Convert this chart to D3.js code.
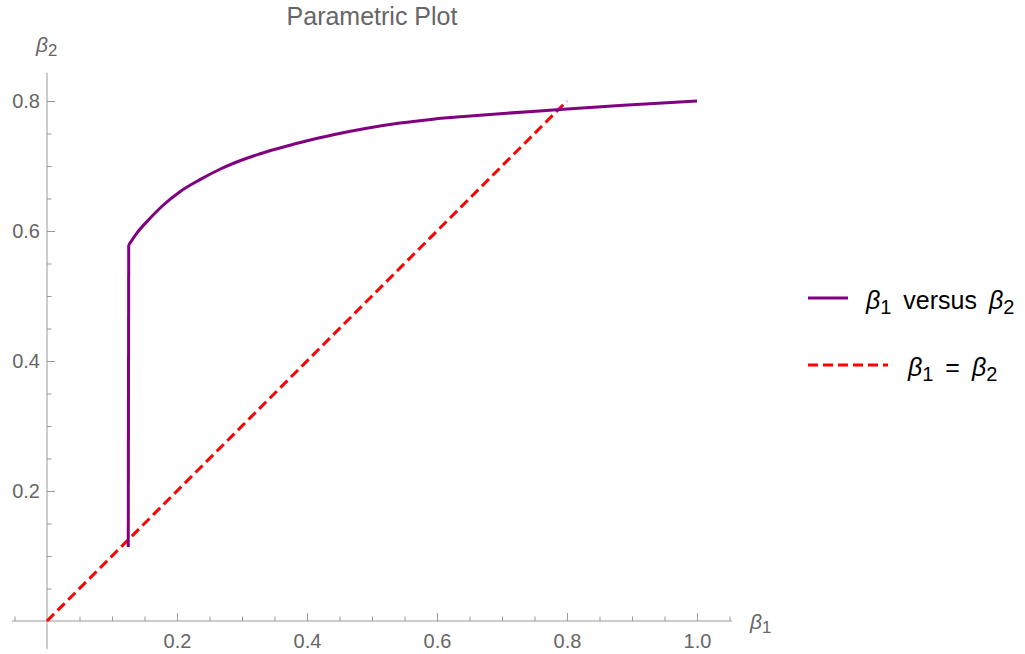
<!DOCTYPE html>
<head>
  <style>
    body { margin: 0; background: #fff; }
    svg text { font-family: "Liberation Sans", Arial, sans-serif; }
    .tick text { font-size: 20px; fill: #666; }
    .tick line { stroke: #999; }
    .axis-line { stroke: #999; stroke-width: 1; }
    .axis-label { font-size: 21px; font-style: italic; fill: #666; }
    .legend-text { font-size: 25px; fill: #000; }
    .title { font-size: 25px; fill: #666; }
  </style>
  <title>Parametric Plot</title>
</head>

<body>
  <script src="https://cdn.jsdelivr.net/npm/d3@7"></script>
  <script>
    // values
    const curveB1 = [0.125, 0.1257, 0.138, 0.1585, 0.179, 0.2046, 0.2354, 0.266, 0.302, 0.338, 0.374,
                     0.405, 0.4405, 0.492, 0.543, 0.594, 0.646, 0.697, 0.784, 0.887, 1.0];
    const curveB2 = [0.114, 0.5785, 0.5965, 0.6195, 0.640, 0.6605, 0.679, 0.695, 0.710, 0.722, 0.732,
                     0.740, 0.748, 0.758, 0.766, 0.772, 0.7765, 0.7805, 0.7865, 0.7935, 0.800];
    const diagB1 = [0, 0.8];
    const diagB2 = [0, 0.8];
    const xTicks = [0.2, 0.4, 0.6, 0.8, 1.0];
    const yTicks = [0.2, 0.4, 0.6, 0.8];
    const legendLabels = [["β", "1", " versus ", "β", "2"], ["β", "1", " = ", "β", "2"]];

    const svg = d3.select("body").append("svg")
      .attr("width", 1025)
      .attr("height", 654);

    const x = d3.scaleLinear().domain([0, 1]).range([47, 697]);
    const y = d3.scaleLinear().domain([0, 0.8]).range([621, 101]);

    // axis lines (extend a little past the data)
    svg.append("line").attr("class", "axis-line")
      .attr("x1", x(-0.054)).attr("x2", x(1.054))
      .attr("y1", y(0)).attr("y2", y(0));
    svg.append("line").attr("class", "axis-line")
      .attr("x1", x(0)).attr("x2", x(0))
      .attr("y1", y(-0.043)).attr("y2", y(0.8435));

    const isMajor = v => Math.abs(Math.round(v * 5) - v * 5) < 1e-6;
    const xMinor = d3.range(-0.05, 1.06, 0.05).filter(v => !isMajor(v));
    const yMinor = d3.range(0.05, 0.81, 0.05).filter(v => !isMajor(v));

    // minor ticks
    svg.append("g").attr("transform", `translate(0,${y(0)})`)
      .call(d3.axisBottom(x).tickValues(xMinor).tickSize(-4.5).tickFormat(""))
      .call(g => g.select(".domain").remove());
    svg.append("g").attr("transform", `translate(${x(0)},0)`)
      .call(d3.axisLeft(y).tickValues(yMinor).tickSize(-4.5).tickFormat(""))
      .call(g => g.select(".domain").remove());

    // major ticks + labels
    svg.append("g").attr("transform", `translate(0,${y(0)})`)
      .call(d3.axisBottom(x).tickValues(xTicks).tickSize(-8).tickPadding(13).tickFormat(d3.format(".1f")))
      .call(g => g.select(".domain").remove())
      .call(g => g.selectAll("text").attr("font-family", null).attr("font-size", null));
    svg.append("g").attr("transform", `translate(${x(0)},0)`)
      .call(d3.axisLeft(y).tickValues(yTicks).tickSize(-8).tickPadding(7).tickFormat(d3.format(".1f")))
      .call(g => g.select(".domain").remove())
      .call(g => g.selectAll("text").attr("font-family", null).attr("font-size", null));

    // axis labels
    function betaLabel(sel, sub) {
      sel.append("tspan").text("β");
      sel.append("tspan").attr("font-style", "normal").attr("font-size", "0.8em")
        .attr("dy", "0.25em").text(sub);
    }
    svg.append("text").attr("class", "axis-label")
      .attr("x", 36).attr("y", 52).call(betaLabel, "2");
    svg.append("text").attr("class", "axis-label")
      .attr("x", 750).attr("y", 629).call(betaLabel, "1");

    // title
    svg.append("text").attr("class", "title")
      .attr("x", 372).attr("y", 25)
      .attr("text-anchor", "middle")
      .text("Parametric Plot");

    // lines
    const line = d3.line().x(d => x(d[0])).y(d => y(d[1]));
    const smooth = d3.line().x(d => x(d[0])).y(d => y(d[1])).curve(d3.curveMonotoneX);

    svg.append("path")
      .datum(d3.zip(diagB1, diagB2))
      .attr("d", line)
      .attr("fill", "none")
      .attr("stroke", "#ff0000")
      .attr("stroke-width", 3)
      .attr("stroke-dasharray", "10,5");

    const pts = d3.zip(curveB1, curveB2);
    // vertical jump, then the smooth branch
    svg.append("path")
      .datum(pts.slice(0, 2))
      .attr("d", line)
      .attr("fill", "none")
      .attr("stroke", "#800080")
      .attr("stroke-width", 3);
    svg.append("path")
      .datum(pts.slice(1))
      .attr("d", smooth)
      .attr("fill", "none")
      .attr("stroke", "#800080")
      .attr("stroke-width", 3)
      .attr("stroke-linejoin", "round");

    // legend
    const legend = svg.append("g").attr("id", "legend");
    const legendItems = [
      { color: "#800080", dash: null, len: 40, textX: 866, y: 298 },
      { color: "#ff0000", dash: "10,5", len: 80, textX: 908, y: 365 }
    ];
    legendItems.forEach((it, i) => {
      legend.append("line")
        .attr("x1", 808).attr("x2", 808 + it.len)
        .attr("y1", it.y).attr("y2", it.y)
        .attr("stroke", it.color).attr("stroke-width", 3)
        .attr("stroke-dasharray", it.dash);
      const t = legend.append("text").attr("class", "legend-text")
        .attr("x", it.textX).attr("y", it.y + 11)
        .attr("xml:space", "preserve");
      const parts = legendLabels[i];
      t.append("tspan").attr("font-style", "italic").text(parts[0]);
      t.append("tspan").attr("font-size", "0.8em").attr("dy", "0.25em").text(parts[1]);
      t.append("tspan").attr("dy", "-0.2em").attr("word-spacing", "5px").text(parts[2]);
      t.append("tspan").attr("font-style", "italic").text(parts[3]);
      t.append("tspan").attr("font-size", "0.8em").attr("dy", "0.25em").text(parts[4]);
    });
  </script>
</body>
